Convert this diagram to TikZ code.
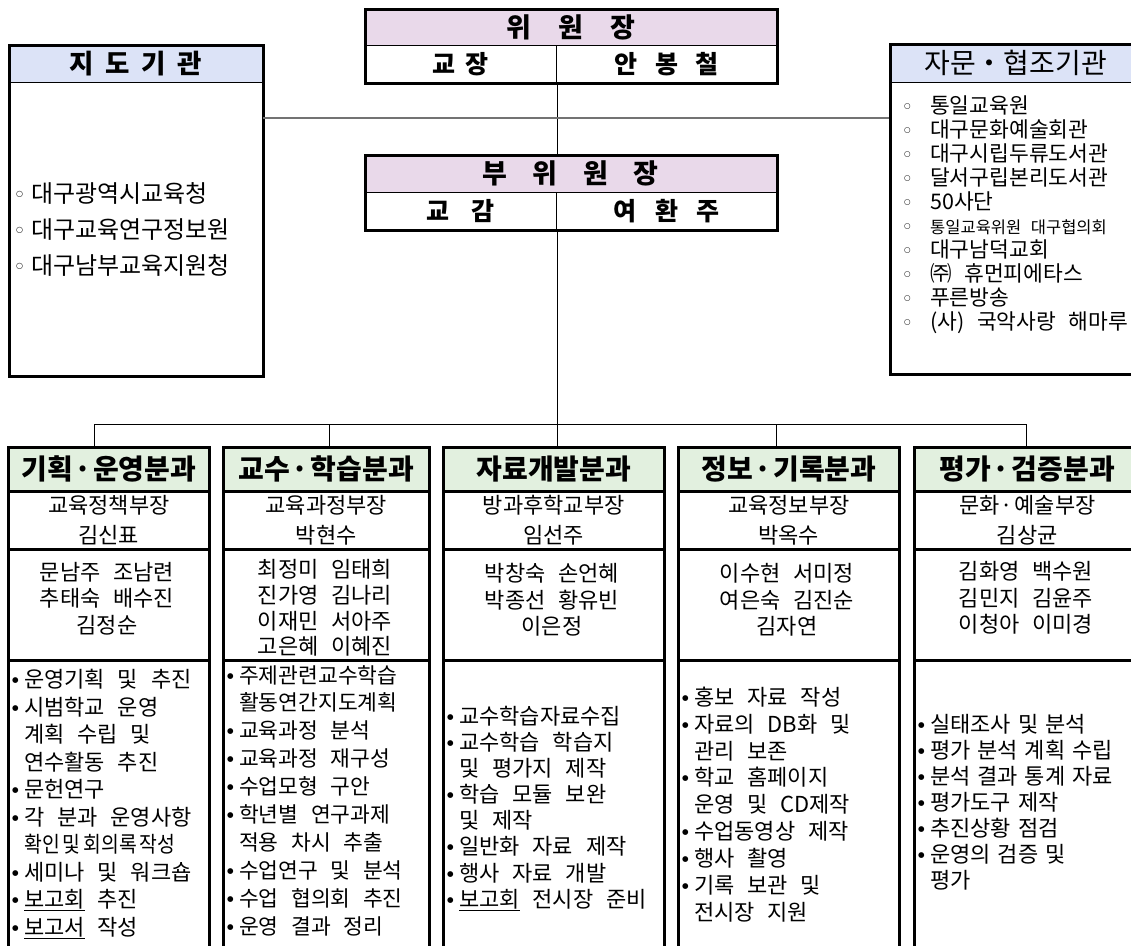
\documentclass[tikz,border=0pt]{standalone}
\usepackage{fontspec}
\usepackage{graphicx}
\setmainfont{Noto Sans CJK KR}[WordSpace=2.6]
\newfontfamily\narrowsp{Noto Sans CJK KR}[WordSpace=1.4]
\newfontfamily\symf{DejaVu Sans}
\definecolor{pinkh}{RGB}{233,217,234}
\definecolor{blueh}{RGB}{220,227,247}
\definecolor{greenh}{RGB}{226,240,223}
\newcommand{\bl}[1]{\makebox[12pt][l]{\raisebox{5pt}{\symf\fontsize{7.5}{7.5}\selectfont ●}}#1}
\newcommand{\cl}[1]{\hspace*{12pt}#1}
\newcommand{\wb}[1]{\makebox[15pt][l]{\raisebox{6pt}{\symf\fontsize{8}{8}\selectfont ○}}#1}
\newcommand{\wbr}[1]{\makebox[26pt][l]{\raisebox{5pt}{\symf\fontsize{7.5}{7.5}\selectfont ○}}#1}
\newcommand{\mdot}{\hspace{0.06em}·\hspace{0.06em}}
\begin{document}
\begin{tikzpicture}[x=1pt,y=-1pt,
  cell/.style={draw=black,line width=1.3pt,inner sep=0pt,anchor=north west,align=center},
  frame/.style={draw=black,line width=2.8pt,inner sep=0pt,anchor=north west},
  bcell/.style={draw=black,line width=2.6pt,inner sep=0pt,anchor=north west,align=center},
  conn/.style={draw=black,line width=1pt},
  grayconn/.style={draw=black!55,line width=1.8pt},
  toph/.style={font=\bfseries\fontsize{27}{30}\selectfont},
  topn/.style={font=\bfseries\fontsize{25}{28}\selectfont},
  sideh/.style={font=\bfseries\fontsize{26.5}{30}\selectfont},
  colh/.style={font=\bfseries\fontsize{28}{30}\selectfont},
  rolet/.style={font=\fontsize{22}{30}\selectfont},
  memt/.style={inner sep=0pt,align=center,font=\fontsize{22}{26.5}\selectfont},
  listt/.style={inner sep=0pt,align=left,anchor=west}
]
\useasboundingbox (0,0) rectangle (1131,945);

% ---- top box: chairman
\node[cell,fill=pinkh,minimum width=412pt,minimum height=37pt,toph] (ah) at (364,8) {위\hspace{1em}원\hspace{1em}장};
\node[cell,minimum width=192pt,minimum height=37pt,topn] (a1) at (364,45) {교\hspace{0.4em}장};
\node[cell,minimum width=220pt,minimum height=37pt,topn] (a2) at (556,45) {안\hspace{0.7em}봉\hspace{0.7em}철};
\node[frame,minimum width=412pt,minimum height=74pt] (A) at (364,8) {};

% ---- vice chairman
\node[cell,fill=pinkh,minimum width=412pt,minimum height=38pt,toph] (bh) at (364,154) {부\hspace{0.95em}위\hspace{0.95em}원\hspace{0.95em}장};
\node[cell,minimum width=192pt,minimum height=37pt,topn] (b1) at (364,192) {교\hspace{0.9em}감};
\node[cell,minimum width=220pt,minimum height=37pt,topn] (b2) at (556,192) {여\hspace{0.75em}환\hspace{0.75em}주};
\node[frame,minimum width=412pt,minimum height=75pt] (B) at (364,154) {};

% ---- left box
\node[cell,fill=blueh,minimum width=254pt,minimum height=38pt,sideh] (lh) at (8,44) {지\hspace{0.45em}도\hspace{0.45em}기\hspace{0.45em}관};
\node[cell,minimum width=254pt,minimum height=293pt] (lb) at (8,82) {};
\node[frame,minimum width=254pt,minimum height=331pt] (L) at (8,44) {};

% ---- right box
\node[cell,fill=blueh,minimum width=252pt,minimum height=39pt,font=\fontsize{28}{30}\selectfont] (rh) at (889,43) {자문・협조기관};
\node[cell,minimum width=252pt,minimum height=291pt] (rb) at (889,82) {};
\node[frame,minimum width=252pt,minimum height=330pt] (R) at (889,43) {};

% ---- bottom columns
\foreach \n/\x/\w/\hd/\ro in {
  1/7/201/{기획\mdot 운영분과}/{교육정책부장\\김신표},
  2/222/206/{교수\mdot 학습분과}/{교육과정부장\\박현수},
  3/442/221/{자료개발분과}/{방과후학교부장\\임선주},
  4/677/221/{정보\mdot 기록분과}/{교육정보부장\\박옥수},
  5/913/226/{평가\mdot 검증분과}/{문화\mdot 예술부장\\김상균}}{
  \node[bcell,fill=greenh,minimum width=\w pt,minimum height=44pt,colh] (h\n) at (\x,446) {\hd};
  \node[bcell,minimum width=\w pt,minimum height=58pt,rolet] (r\n) at (\x,490) {\ro};
  \node[bcell,minimum width=\w pt,minimum height=111pt] (m\n) at (\x,548) {};
  \node[bcell,minimum width=\w pt,minimum height=310pt] (t\n) at (\x,659) {};
}

% ---- connectors
\coordinate (midy) at (556,118);
\draw[conn] (a1.south east) -- (a1.south east |- bh.north);
\draw[grayconn] (lb.east |- midy) -- (rb.west |- midy);
\draw[conn] (b1.south east) -- (b1.south east |- h3.north);
\coordinate (d1) at (94,424);
\coordinate (d2) at (329,424);
\coordinate (d4) at (776,424);
\coordinate (d5) at (1026,424);
\draw[conn] (d1) -- (d5);
\draw[conn] (d1) -- (d1 |- h1.north);
\draw[conn] (d2) -- (d2 |- h2.north);
\draw[conn] (d4) -- (d4 |- h4.north);
\draw[conn] (d5) -- (d5 |- h5.north);

% ---- left list
\node[listt,font=\fontsize{24}{36}\selectfont] (llist) at (16,229) {%
\wb{대구광역시교육청}\\
\wb{대구교육연구정보원}\\
\wb{대구남부교육지원청}};

% ---- right list
\node[listt,font=\fontsize{21.5}{24}\selectfont] (rlist) at (904,215) {%
\wbr{통일교육원}\\
\wbr{대구문화예술회관}\\
\wbr{대구시립두류도서관}\\
\wbr{달서구립본리도서관}\\
\wbr{50사단}\\
\wbr{{\fontsize{16.5}{16.5}\selectfont 통일교육위원 대구협의회}}\\
\wbr{대구남덕교회}\\
\wbr{㈜ 휴먼피에타스}\\
\wbr{푸른방송}\\
\wbr{(사) 국악사랑 해마루}};

% ---- members
\node[memt] (mt1) at (107,598.5) {문남주 조남련\\추태숙 배수진\\김정순};
\node[memt,font=\fontsize{22}{25.7}\selectfont] (mt2) at (325,608) {최정미 임태희\\진가영 김나리\\이재민 서아주\\고은혜 이혜진};
\node[memt] (mt3) at (552,600) {박창숙 손언혜\\박종선 황유빈\\이은정};
\node[memt] (mt4) at (787,600) {이수현 서미정\\여은숙 김진순\\김자연};
\node[memt] (mt5) at (1026,598) {김화영 백수원\\김민지 김윤주\\이청아 이미경};

% ---- task lists
\node[listt,font=\fontsize{22}{27.5}\selectfont] (tl1) at (12,804) {%
\bl{운영기획 및 추진}\\
\bl{시범학교 운영}\\
\cl{계획 수립 및}\\
\cl{연수활동 추진}\\
\bl{문헌연구}\\
\bl{각 분과 운영사항}\\
\cl{\scalebox{0.88}[1]{확인\hspace{0.15em}및\hspace{0.15em}회의록\hspace{0.15em}작성}}\\
\bl{세미나 및 워크숍}\\
\bl{\underline{보고회} 추진}\\
\bl{\underline{보고서} 작성}};

\node[listt,font=\fontsize{21.5}{27.9}\selectfont] (tl2) at (227,800.5) {%
\bl{주제관련교수학습}\\
\cl{활동연간지도계획}\\
\bl{교육과정 분석}\\
\bl{교육과정 재구성}\\
\bl{수업모형 구안}\\
\bl{학년별 연구과제}\\
\cl{적용 차시 추출}\\
\bl{수업연구 및 분석}\\
\bl{수업 협의회 추진}\\
\bl{운영 결과 정리}};

\node[listt,font=\fontsize{22}{26.1}\selectfont] (tl3) at (447,808.5) {%
\bl{교수학습자료수집}\\
\bl{교수학습 학습지}\\
\cl{및 평가지 제작}\\
\bl{학습 모듈 보완}\\
\cl{및 제작}\\
\bl{일반화 자료 제작}\\
\bl{행사 자료 개발}\\
\bl{\underline{보고회} 전시장 준비}};

\node[listt,font=\fontsize{22}{26.9}\selectfont] (tl4) at (682,804.5) {%
\bl{홍보 자료 작성}\\
\bl{자료의 DB화 및}\\
\cl{관리 보존}\\
\bl{학교 홈페이지}\\
\cl{운영 및 CD제작}\\
\bl{수업동영상 제작}\\
\bl{행사 촬영}\\
\bl{기록 보관 및}\\
\cl{전시장 지원}};

\node[listt,font=\narrowsp\fontsize{22}{26}\selectfont] (tl5) at (918,802) {%
\bl{실태조사 및 분석}\\
\bl{평가 분석 계획 수립}\\
\bl{분석 결과 통계 자료}\\
\bl{평가도구 제작}\\
\bl{추진상황 점검}\\
\bl{운영의 검증 및}\\
\cl{평가}};
\end{tikzpicture}
\end{document}
